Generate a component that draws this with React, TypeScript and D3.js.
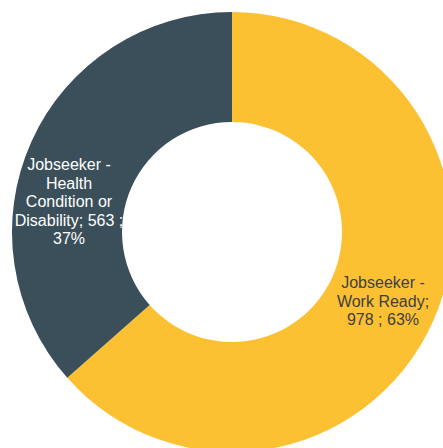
import React, { useEffect, useRef } from "react";
import * as d3 from "d3";

const categories = ["Jobseeker - Work Ready", "Jobseeker - Health Condition or Disability"];
const values = [978, 563];
const percents = ["63%", "37%"];
const colors = ["#FBC132", "#3A4F5A"];
const labelColors = ["#404040", "#FFFFFF"];
const labelLines = [
  ["Jobseeker -", "Work Ready;", "978 ; 63%"],
  ["Jobseeker -", "Health", "Condition or", "Disability; 563 ;", "37%"],
];

const width = 443;
const height = 448;

const App: React.FC = () => {
  const svgRef = useRef<SVGSVGElement | null>(null);

  useEffect(() => {
    const svg = d3.select(svgRef.current);
    svg.selectAll("*").remove();

    const cx = 232;
    const cy = 232;
    const outer = 220;
    const inner = 110;

    const data = categories.map((c, i) => ({ name: c, value: values[i], pct: percents[i] }));

    const pie = d3
      .pie<any>()
      .value(d => d.value)
      .sort(null);

    const arc = d3.arc<any>().innerRadius(inner).outerRadius(outer);

    const g = svg.append("g").attr("transform", `translate(${cx},${cy})`);

    const arcs = pie(data);

    g.selectAll("path")
      .data(arcs)
      .join("path")
      .attr("d", arc)
      .attr("fill", (d, i) => colors[i]);

    // label anchors (Excel-style placement)
    const labelPos = [
      { x: 383 - cx, y: 288 - cy },
      { x: 69 - cx, y: 170 - cy },
    ];
    const lineH = 18.6;

    arcs.forEach((a, i) => {
      const t = g
        .append("text")
        .attr("text-anchor", "middle")
        .attr("font-family", "Liberation Sans, Arial, sans-serif")
        .attr("font-size", 16)
        .attr("fill", labelColors[i]);
      labelLines[i].forEach((line, j) => {
        t.append("tspan")
          .attr("x", labelPos[i].x)
          .attr("y", labelPos[i].y + j * lineH)
          .text(line);
      });
    });
  }, []);

  return (
    <svg
      ref={svgRef}
      width={width}
      height={height}
      style={{ position: "absolute", left: 0, top: 0, background: "#fff" }}
    ></svg>
  );
};

export default App;
